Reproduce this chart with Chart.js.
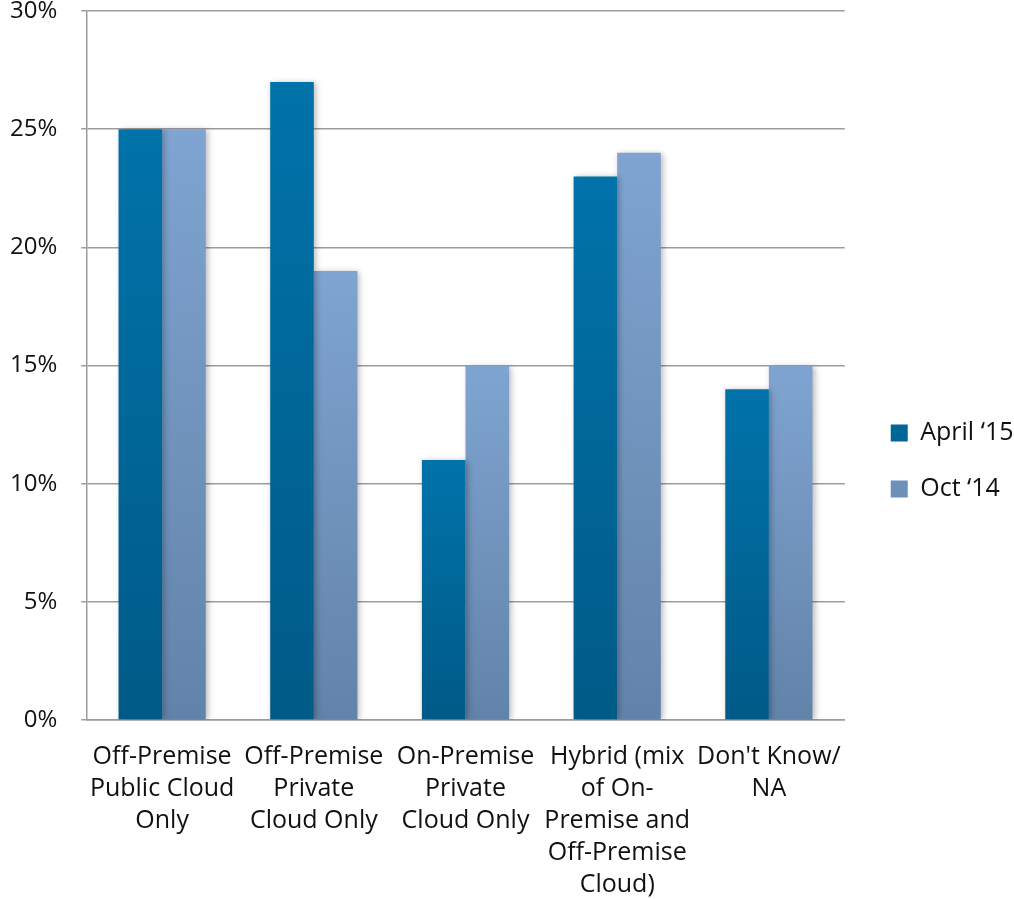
<!DOCTYPE html>
<html>
<head>
<meta charset="utf-8">
<title>Cloud deployment preference</title>
<script src="https://cdn.jsdelivr.net/npm/chart.js@4.4.1/dist/chart.umd.min.js"></script>
<style>
  html, body { margin: 0; padding: 0; background: #ffffff; }
  #wrap { width: 1014px; height: 899px; }
</style>
</head>
<body>
<div id="wrap"><canvas id="chart" width="1014" height="899"></canvas></div>
<script>
// Category labels, one entry per line of the wrapped axis label
const categories = [
  ['Off-Premise', 'Public Cloud', 'Only'],
  ['Off-Premise', 'Private', 'Cloud Only'],
  ['On-Premise', 'Private', 'Cloud Only'],
  ['Hybrid (mix', 'of On-', 'Premise and', 'Off-Premise', 'Cloud)'],
  ["Don't Know/", 'NA']
];

// Survey waves
const seriesNames = ['April \u201815', 'Oct \u201814'];

// Share of respondents (%)
const april15 = [25, 27, 11, 23, 14];
const oct14 = [25, 19, 15, 24, 15];

// Value axis
const yMin = 0;
const yMax = 30;
const yStep = 5;

const FONT = "'Open Sans', 'DejaVu Sans', sans-serif";
const TEXT = '#111111';
const GRID = '#9c9c9c';

// Vertical gradient spanning each individual bar
function barFill(top, bottom) {
  return (ctx) => {
    const chart = ctx.chart;
    if (!chart.chartArea || ctx.type !== 'data' || ctx.raw == null) return top;
    const y = chart.scales.y;
    const g = chart.ctx.createLinearGradient(0, y.getPixelForValue(ctx.raw), 0, y.getPixelForValue(0));
    g.addColorStop(0, top);
    g.addColorStop(1, bottom);
    return g;
  };
}

// Soft drop shadow behind the bars
const barShadow = {
  id: 'barShadow',
  beforeDatasetsDraw(chart) {
    const c = chart.ctx;
    c.save();
    c.shadowColor = 'rgba(0,0,0,0.28)';
    c.shadowBlur = 6;
    c.shadowOffsetX = 2;
    c.shadowOffsetY = 1;
  },
  afterDatasetsDraw(chart) {
    chart.ctx.restore();
  }
};

// Push the legend a little further from the plot area
const legendGap = {
  id: 'legendGap',
  afterLayout(chart) {
    const lg = chart.legend;
    if (!lg) return;
    const dx = 15;
    lg.left += dx;
    lg.right += dx;
  }
};

new Chart(document.getElementById('chart'), {
  type: 'bar',
  data: {
    labels: categories,
    datasets: [
      {
        label: seriesNames[0],
        data: april15,
        backgroundColor: barFill('#0073aa', '#005a87'),
        borderWidth: 0
      },
      {
        label: seriesNames[1],
        data: oct14,
        backgroundColor: barFill('#7fa4d1', '#6283a9'),
        borderWidth: 0
      }
    ]
  },
  options: {
    responsive: false,
    animation: false,
    events: [],
    layout: { padding: { left: -14, right: 5.5, top: 0, bottom: -23 } },
    datasets: {
      bar: { categoryPercentage: 0.575, barPercentage: 1.0 }
    },
    plugins: {
      tooltip: { enabled: false },
      legend: {
        position: 'right',
        align: 'center',
        labels: {
          font: { family: FONT, size: 25 },
          color: TEXT,
          boxWidth: 17,
          boxHeight: 17,
          padding: 31
        }
      }
    },
    scales: {
      x: {
        grid: { display: false, drawTicks: false },
        border: { display: true, color: GRID, width: 1.5 },
        ticks: {
          font: { family: FONT, size: 25, lineHeight: 1.28 },
          color: TEXT,
          padding: 21,
          maxRotation: 0,
          minRotation: 0,
          autoSkip: false
        }
      },
      y: {
        min: yMin,
        max: yMax,
        grid: { color: GRID, lineWidth: 1.5, tickLength: 5, drawTicks: true },
        border: { display: true, color: GRID, width: 1.5 },
        ticks: {
          stepSize: yStep,
          font: { family: FONT, size: 24, lineHeight: 0.92 },
          color: TEXT,
          padding: 24,
          callback: (v) => v + '%'
        },
        // only half a label of headroom above the top tick
        afterFit: (scale) => {
          scale.paddingTop = 11;
          scale.paddingBottom = 11;
        }
      }
    }
  },
  plugins: [barShadow, legendGap]
});
</script>
</body>
</html>
